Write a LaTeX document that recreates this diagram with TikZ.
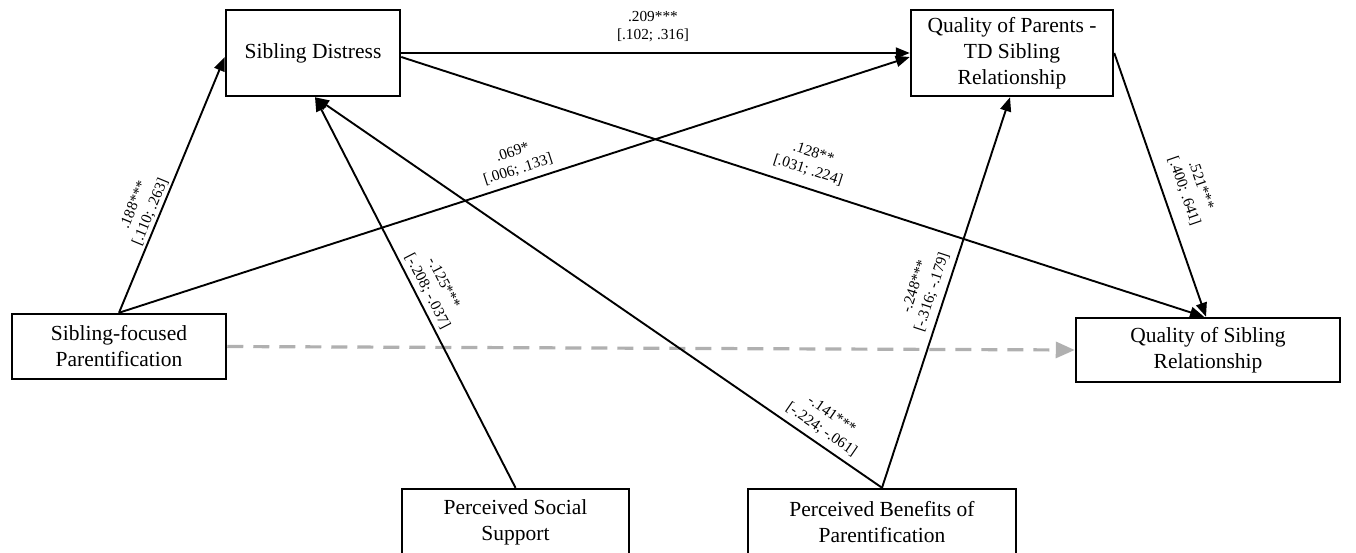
\documentclass[tikz,border=0pt]{standalone}
\usepackage{fontspec}
\setmainfont{Liberation Serif}
\usetikzlibrary{arrows.meta}
\begin{document}
\begin{tikzpicture}[x=1pt,y=-1pt,
  box/.style={draw, line width=2.5pt, rectangle, align=center, inner sep=0pt, font=\fontsize{21.5}{26}\selectfont},
  conn/.style={line width=1.9pt, -{Triangle[length=14pt,width=11pt]}},
  dashconn/.style={draw=gray!62, line width=3.2pt, dash pattern=on 16pt off 10pt, -{Triangle[length=19pt,width=16pt,fill=gray!62]}},
  lab/.style={font=\fontsize{15.3}{18}\selectfont, align=center, sloped, inner sep=1pt},
]
\useasboundingbox (0,0) rectangle (1356,552);
\fill[white] (0,0) rectangle (1356,552);

\node[box, minimum width=174pt, minimum height=86pt] (sd) at (313,53) {Sibling Distress};
\node[box, minimum width=202pt, minimum height=86pt] (qp) at (1012,53) {Quality of Parents -\\TD Sibling\\Relationship};
\node[box, minimum width=214pt, minimum height=65pt] (sf) at (119,346.5) {Sibling-focused\\Parentification};
\node[box, minimum width=264pt, minimum height=64pt] (qsr) at (1208,350) {Quality of Sibling\\Relationship};
\node[box, minimum width=227pt, minimum height=67pt] (pss) at (515.5,522.5) {Perceived Social\\Support};
\node[box, minimum width=268pt, minimum height=67pt] (pbp) at (882,522.5) {Perceived Benefits of\\Parentification};

\draw[dashconn] (sf.east) -- (qsr.west);

\draw[conn] (sf.north) -- ([yshift=-4pt]sd.west)
  node[lab, pos=0.38, above=1pt] {.188***\\{}[.110; .263]};
\draw[conn] (sf.north) -- ([yshift=-4pt]qp.west)
  node[lab, pos=0.51, above=5pt] {.069*\\{}[.006; .133]};
\draw[conn] (sd.east) -- (qp.west)
  node[lab, pos=0.495, above=9pt] {.209***\\{}[.102; .316]};
\draw[conn] ([yshift=-4pt]sd.east) -- ([xshift=-4pt]qsr.north)
  node[lab, pos=0.5, above=9pt] {.128**\\{}[.031; .224]};
\draw[conn] (qp.east) -- ([xshift=-2pt]qsr.north)
  node[lab, pos=0.55, above=12pt] {.521***\\{}[.400; .641]};
\draw[conn] (pss.north) -- ([xshift=2pt]sd.south)
  node[lab, pos=0.49, above=3pt] {-.125***\\{}[-.208; -.037]};
\draw[conn] (pbp.north) -- ([xshift=2pt]sd.south)
  node[lab, pos=0.12, above=5pt] {-.141***\\{}[-.224; -.061]};
\draw[conn] (pbp.north) -- ([xshift=-2pt]qp.south)
  node[lab, pos=0.49, above=5pt] {-.248***\\{}[-.316; -.179]};
\end{tikzpicture}
\end{document}
